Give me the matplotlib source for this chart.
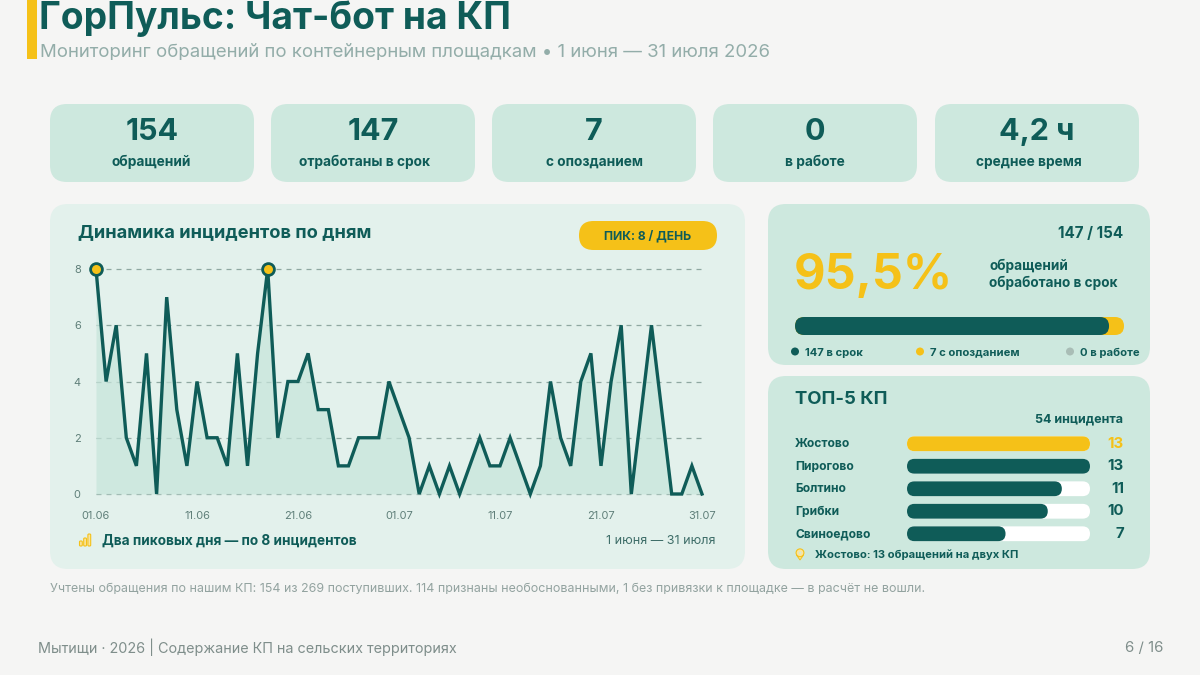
import matplotlib
matplotlib.use("Agg")
import matplotlib.pyplot as plt
from matplotlib.patches import FancyBboxPatch, Rectangle, Circle, Polygon

plt.rcParams['font.family'] = ['Inter', 'DejaVu Sans']

W, H = 1200, 675
BG = '#F5F5F4'
CARD = '#CDE8DE'
PANEL = '#E3F1EC'
DARK = '#0F5C58'
YEL = '#F5C118'
GREY = '#A9BDB6'
MUTED = '#93ADA9'

# ---- data ----
kpi_values = ['154', '147', '7', '0', '4,2 ч']
kpi_labels = ['обращений', 'отработаны в срок', 'с опозданием', 'в работе', 'среднее время']
daily = [8, 4, 6, 2, 1, 5, 0, 7, 3, 1, 4, 2, 2, 1, 5, 1, 5, 8, 2, 4, 4, 5, 3, 3, 1, 1, 2, 2, 2, 4, 3,
         2, 0, 1, 0, 1, 0, 1, 2, 1, 1, 2, 1, 0, 1, 4, 2, 1, 4, 5, 1, 4, 6, 0, 3, 6, 3, 0, 0, 1, 0]
xtick_idx = [0, 10, 20, 30, 40, 50, 60]
xtick_labels = ['01.06', '11.06', '21.06', '01.07', '11.07', '21.07', '31.07']
ytick_vals = [0, 2, 4, 6, 8]
on_time, late, in_work = 147, 7, 0
total = 154
top_names = ['Жостово', 'Пирогово', 'Болтино', 'Грибки', 'Свиноедово']
top_values = [13, 13, 11, 10, 7]

fig = plt.figure(figsize=(12, 6.75), dpi=100, facecolor=BG)
bg = fig.add_axes([0, 0, 1, 1])
bg.set_xlim(0, W)
bg.set_ylim(H, 0)
bg.axis('off')


def px(s):
    return s * 0.72


def T(x, y, s, size, color=DARK, weight='normal', ha='left', **kw):
    return bg.text(x, y, s, fontsize=px(size), color=color, fontweight=weight, ha=ha, va='center', **kw)


def round_box(x0, y0, x1, y1, r, color, z=1):
    bg.add_patch(FancyBboxPatch((x0, y0), x1 - x0, y1 - y0, boxstyle=f'round,pad=0,rounding_size={r}',
                                fc=color, ec='none', zorder=z))


def axes_px(x0, y0, x1, y1):
    a = fig.add_axes([x0 / W, 1 - y1 / H, (x1 - x0) / W, (y1 - y0) / H])
    a.patch.set_alpha(0)
    return a


def pill(a, x0, xc, yc, h_data, rx_data, ry_data, color, z=3):
    a.add_patch(FancyBboxPatch((x0, yc - h_data / 2), xc - x0, h_data,
                               boxstyle=f'round,pad=0,rounding_size={rx_data}',
                               mutation_aspect=ry_data / rx_data, fc=color, ec='none', zorder=z))


# ---- header ----
bg.add_patch(Rectangle((27, 0), 10, 59, fc=YEL, ec='none'))
T(39, 19, 'ГорПульс: Чат-бот на КП', 37.2, weight='bold')
T(40, 52.5, 'Мониторинг обращений по контейнерным площадкам • 1 июня — 31 июля 2026', 18.6, color=MUTED)

# ---- KPI cards ----
card_x = [50, 271, 492, 713, 935]
label_cx = [151, 364.5, 594.5, 815, 1028.5]
for cx, lx, v, l in zip(card_x, label_cx, kpi_values, kpi_labels):
    round_box(cx, 104, cx + 204, 182, 17, CARD)
    T(cx + 102, 131.5, v, 30.5, weight='bold', ha='center')
    T(lx, 162, l, 13.7, weight='bold', ha='center')

# ---- chart panel ----
round_box(50, 204, 745, 569, 18, PANEL)
T(78, 233, 'Динамика инцидентов по дням', 18.3, weight='bold')
round_box(579, 221, 717, 250, 14.5, YEL)
T(648, 236, 'ПИК: 8 / ДЕНЬ', 12.2, weight='bold', ha='center')

ax = axes_px(96, 269, 702, 494)
days = list(range(len(daily)))
ax.set_xlim(0, len(daily) - 1)
ax.set_ylim(0, 8)
ax.fill_between(days, daily, 0, color='#C6E5DA', alpha=0.72, lw=0, zorder=2)
ax.set_yticks(ytick_vals)
ax.set_xticks(xtick_idx)
ax.set_xticklabels(xtick_labels)
ax.grid(axis='y', color='#8FA8A1', lw=0.9, ls=(0, (4, 4)), zorder=1, clip_on=False)
ax.grid(axis='x', visible=False)
ax.set_axisbelow(True)
for sp in ax.spines.values():
    sp.set_visible(False)
ax.tick_params(length=0, labelsize=px(11), labelcolor='#5F7F79')
ax.tick_params(axis='y', pad=11)
ax.tick_params(axis='x', pad=12)
ax.plot(days, daily, color=DARK, lw=2.4, solid_joinstyle='miter', zorder=4, clip_on=False)
peak = max(daily)
px_days = [d for d, v in zip(days, daily) if v == peak]
ax.plot(px_days, [peak] * len(px_days), ls='none', marker='o', ms=8.5, mfc=YEL, mec=DARK, mew=2,
        zorder=5, clip_on=False)

# bar icon
for bx, by, bh in [(79.5, 541, 5), (83.7, 538, 8), (87.9, 534, 12)]:
    bg.add_patch(FancyBboxPatch((bx, by), 2.8, bh, boxstyle='round,pad=0,rounding_size=1',
                                fc='#F9E4A0', ec=YEL, lw=0.8, zorder=3))
T(102, 541, 'Два пиковых дня — по 8 инцидентов', 13.6, weight='bold')
T(715, 540.5, '1 июня — 31 июля', 12.5, color='#3F6E69', ha='right')

# ---- on-time panel ----
round_box(768, 204, 1150, 365, 18, CARD)
T(1123, 233, f'{on_time} / {total}', 15.2, weight='bold', ha='right')
T(794, 276, '95,5%', 48.6, color=YEL, weight='bold')
T(989, 266, 'обращений', 13.6, weight='bold')
T(989, 283, 'обработано в срок', 13.6, weight='bold')

pa = axes_px(795, 317, 1124, 335)
pa.axis('off')
pa.set_xlim(0, total)
pa.set_ylim(0, 1)
rx = 9 * total / 329
pill(pa, 0, total, 0.5, 1, rx, 0.5, YEL, z=2)
pill(pa, 0, on_time, 0.5, 1, rx, 0.5, DARK, z=3)

for dx, tx, col, s in [(795, 805, DARK, f'{on_time} в срок'),
                       (920, 930, YEL, f'{late} с опозданием'),
                       (1070, 1080, GREY, f'{in_work} в работе')]:
    bg.add_patch(Circle((dx, 351.5), 4, fc=col, ec='none', zorder=3))
    T(tx, 352.5, s, 11.25, weight='bold')

# ---- top-5 panel ----
round_box(768, 376, 1150, 569, 18, CARD)
T(795, 400, 'ТОП-5 КП', 18.5, weight='bold')
T(1123, 419.5, f'{sum(top_values)} инцидента', 12.5, weight='bold', ha='right')

ta = axes_px(907, 432.5, 1090, 545)
ta.axis('off')
vmax = max(top_values)
ta.set_xlim(0, vmax)
ta.set_ylim(len(top_values) - 0.5, -0.5)
rx = 7.4 * vmax / 183
ry = 7.4 / 22.5
row_h = 14.8 / 22.5
for i, (name, v) in enumerate(zip(top_names, top_values)):
    pill(ta, 0, vmax, i, row_h, rx, ry, 'white', z=2)
    pill(ta, 0, v, i, row_h, rx, ry, YEL if i == 0 else DARK, z=3)
    yc = 443.8 + i * 22.5
    T(795, yc + 0.5, name, 12.1, weight='bold')
    T(1124, yc, str(v), 15, weight='bold', ha='right', color=YEL if i == 0 else DARK)

# pin icon
bg.add_patch(Polygon([(796.5, 555), (803.5, 555), (800, 560)], fc='#F9E4A0', ec=YEL, lw=0.7, zorder=3))
bg.add_patch(Circle((800, 552.8), 3.9, fc='#F9E4A0', ec=YEL, lw=0.8, zorder=4))
bg.add_patch(Circle((800, 552.8), 1.2, fc=CARD, ec='none', zorder=5))
T(815, 554.5, 'Жостово: 13 обращений на двух КП', 11.2, weight='bold')

# ---- notes ----
T(50, 588.5, 'Учтены обращения по нашим КП: 154 из 269 поступивших. 114 признаны необоснованными, '
             '1 без привязки к площадке — в расчёт не вошли.', 12.46, color='#93A3A0')
T(38, 647.5, 'Мытищи · 2026 | Содержание КП на сельских территориях', 14.43, color='#7F8E8B')
T(1163, 647.5, '6 / 16', 15, color='#7F8E8B', ha='right')

fig.savefig('out.png', dpi=100, facecolor=BG)
